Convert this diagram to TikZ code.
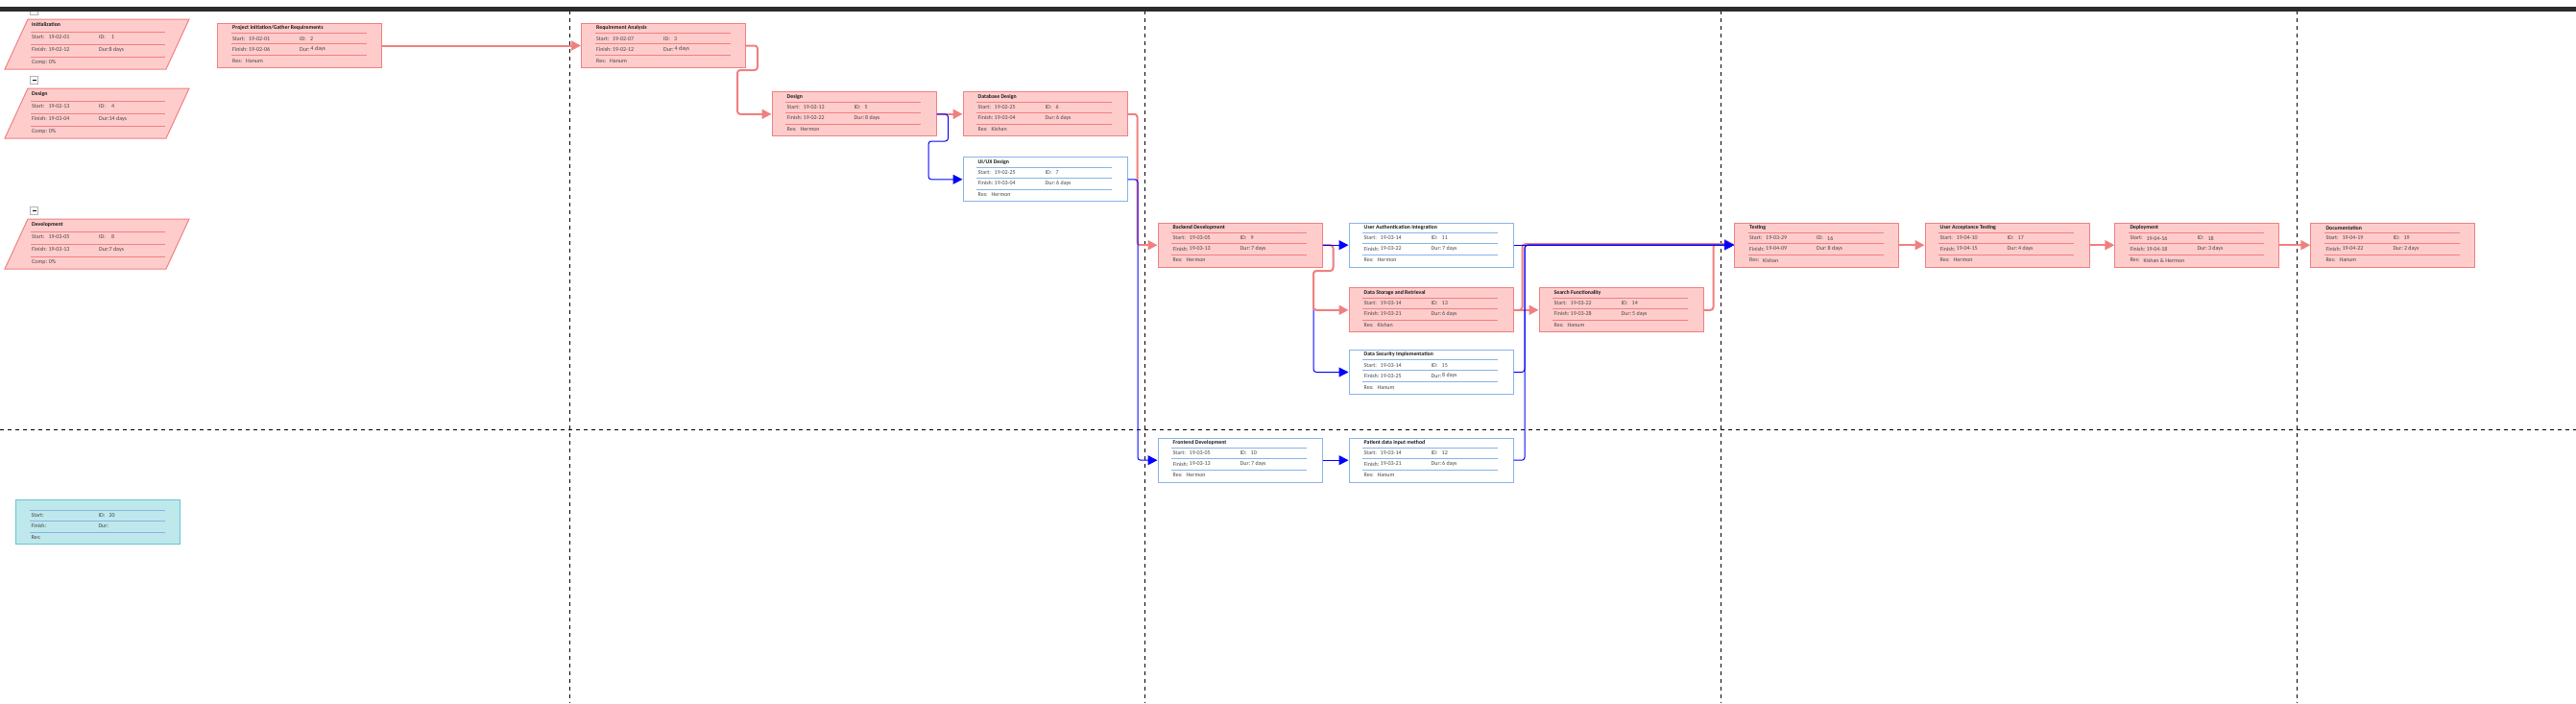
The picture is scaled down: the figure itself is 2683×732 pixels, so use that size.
\documentclass[tikz,border=0pt]{standalone}
\usepackage{fontspec}
\setmainfont{Carlito}
\usetikzlibrary{arrows.meta}

\definecolor{pinkfill}{RGB}{255,204,204}
\definecolor{pinkedge}{RGB}{240,128,128}
\definecolor{blueedge}{RGB}{135,180,232}
\definecolor{cyanfill}{RGB}{190,232,236}
\definecolor{cyanedge}{RGB}{102,198,208}
\definecolor{linkblue}{RGB}{0,0,255}
\definecolor{barcol}{RGB}{43,43,43}
\definecolor{titlecol}{RGB}{25,25,25}
\definecolor{rowcol}{RGB}{70,70,70}
\definecolor{minusedge}{RGB}{170,180,195}

\newcommand{\tasknode}[9]{%
  \node[#1box] (#2) at (#3) {};
  \foreach \ly in {10.8,21.8,33.8}
    \draw[#1sep] ([shift={(14.5,\ly)}]#2.north west) -- ++(141,0);
  \node[ttl] at ([shift={(16,5.3)}]#2.north west) {#4};
  \node[row] at ([shift={(16,16.3)}]#2.north west) {Start:};
  \node[row] at ([shift={(33,16.3)}]#2.north west) {#5};
  \node[row] at ([shift={(86,16.3)}]#2.north west) {ID:};
  \node[row] at ([shift={(97,16.3)}]#2.north west) {#6};
  \node[row] at ([shift={(16,27.3)}]#2.north west) {Finish:};
  \node[row] at ([shift={(33,27.3)}]#2.north west) {#7};
  \node[row] at ([shift={(86,27.3)}]#2.north west) {Dur:};
  \node[row] at ([shift={(97.5,27.3)}]#2.north west) {#8};
  \node[row] at ([shift={(16,39.3)}]#2.north west) {Res:};
  \node[row] at ([shift={(30,39.3)}]#2.north west) {#9};
}

\newcommand{\sumnode}[8]{%
  \coordinate (#1) at (5,#2);
  \draw[sumbox] (#1) ++(24,0) -- ++(168,0) -- ++(-24,52) -- ++(-168,0) -- cycle;
  \foreach \ly in {13.3,26.3,39.3}
    \draw[pinksep] ([shift={(27,\ly)}]#1) -- ++(140,0);
  \node[ttl] at ([shift={(28,5.7)}]#1) {#3};
  \node[row] at ([shift={(28,18.7)}]#1) {Start:};
  \node[row] at ([shift={(45.3,18.7)}]#1) {#4};
  \node[row] at ([shift={(98,18.7)}]#1) {ID:};
  \node[row] at ([shift={(111,18.7)}]#1) {#5};
  \node[row] at ([shift={(28,31.7)}]#1) {Finish:};
  \node[row] at ([shift={(45.3,31.7)}]#1) {#6};
  \node[row] at ([shift={(98,31.7)}]#1) {Dur:};
  \node[row] at ([shift={(108.5,31.7)}]#1) {#7};
  \node[row] at ([shift={(28,44.7)}]#1) {Comp: #8};
}

\begin{document}
\begin{tikzpicture}[x=1pt,y=-1pt,
    pinkbox/.style={draw=pinkedge,fill=pinkfill,line width=1pt,anchor=north west,
      minimum width=171pt,minimum height=46pt,inner sep=0pt},
    bluebox/.style={pinkbox,draw=blueedge,fill=white},
    cyanbox/.style={pinkbox,draw=cyanedge,fill=cyanfill},
    sumbox/.style={draw=pinkedge,fill=pinkfill,line width=1pt},
    pinksep/.style={draw=pinkedge,line width=0.9pt},
    bluesep/.style={draw=blueedge,line width=0.9pt},
    cyansep/.style={bluesep},
    ttl/.style={anchor=west,inner sep=0pt,text=titlecol,font=\fontsize{5.8}{7}\selectfont\bfseries},
    row/.style={anchor=west,inner sep=0pt,text=rowcol,font=\fontsize{6}{7}\selectfont},
    laneline/.style={black,line width=1pt,dash pattern=on 4pt off 4pt},
    minusbox/.style={draw=minusedge,fill=white,line width=0.8pt,minimum size=8pt,inner sep=0pt,
      path picture={\draw[black,line width=1pt] ([xshift=2pt]path picture bounding box.west)
        -- ([xshift=-2pt]path picture bounding box.east);}},
    pinkarrow/.style={draw=pinkedge,line width=2pt,rounded corners=3pt,
      -{Triangle[length=10pt,width=10pt]}},
    bluearrow/.style={draw=linkblue,line width=1pt,rounded corners=3pt,
      -{Triangle[length=10pt,width=10pt]}}]
  \useasboundingbox (0,0) rectangle (2683,732);

  \foreach \dx in {593,1192,1792,2392}
    \draw[laneline] (\dx,11) -- (\dx,732);
  \draw[laneline] (0,447) -- (2683,447);

  \node[minusbox] (minustop) at (35.5,11) {};
  \fill[barcol] (0,7) rectangle (2683,11.5);
  \node[minusbox] (minusdesign) at (35.5,83) {};
  \node[minusbox] (minusdevel) at (35.5,219) {};

  \sumnode{init}{20}{Initialization}{19-02-01}{1}{19-02-12}{8 days}{0\%}
  \sumnode{design}{92}{Design}{19-02-13}{4}{19-03-04}{14 days}{0\%}
  \sumnode{devel}{228}{Development}{19-03-05}{8}{19-03-13}{7 days}{0\%}

  \tasknode{pink}{gather}{226,24}{Project Initiation/Gather Requirements}{19-02-01}{2}{19-02-06}{4 days}{Hanum}
  \tasknode{pink}{reqa}{605,24}{Requirement Analysis}{19-02-07}{3}{19-02-12}{4 days}{Hanum}
  \tasknode{pink}{dsgn}{803.5,95.3}{Design}{19-02-13}{5}{19-02-22}{8 days}{Hermon}
  \tasknode{pink}{dbd}{1002.5,95.3}{Database Design}{19-02-25}{6}{19-03-04}{6 days}{Kishan}
  \tasknode{blue}{uiux}{1002.5,163.3}{UI/UX Design}{19-02-25}{7}{19-03-04}{6 days}{Hermon}
  \tasknode{pink}{backend}{1205.5,231.7}{Backend Development}{19-03-05}{9}{19-03-13}{7 days}{Hermon}
  \tasknode{blue}{frontend}{1205.5,455.7}{Frontend Development}{19-03-05}{10}{19-03-13}{7 days}{Hermon}
  \tasknode{blue}{auth}{1404.5,231.7}{User Authentication Integration}{19-03-14}{11}{19-03-22}{7 days}{Hermon}
  \tasknode{blue}{patient}{1404.5,455.7}{Patient data input method}{19-03-14}{12}{19-03-21}{6 days}{Hanum}
  \tasknode{pink}{store}{1404.5,299.3}{Data Storage and Retrieval}{19-03-14}{13}{19-03-21}{6 days}{Kishan}
  \tasknode{pink}{search}{1602.5,299.3}{Search Functionality}{19-03-22}{14}{19-03-28}{5 days}{Hanum}
  \tasknode{blue}{secur}{1404.5,364}{Data Security Implementation}{19-03-14}{15}{19-03-25}{8 days}{Hanum}
  \tasknode{pink}{testing}{1806,231.7}{Testing}{19-03-29}{16}{19-04-09}{8 days}{Kishan}
  \tasknode{pink}{uat}{2004.5,231.7}{User Acceptance Testing}{19-04-10}{17}{19-04-15}{4 days}{Hermon}
  \tasknode{pink}{deploy}{2202.3,231.7}{Deployment}{19-04-16}{18}{19-04-18}{3 days}{Kishan \& Hermon}
  \tasknode{pink}{docu}{2406.3,231.7}{Documentation}{19-04-19}{19}{19-04-22}{2 days}{Hanum}
  \tasknode{cyan}{newtask}{16.3,520.3}{}{}{20}{}{}{}

  \draw[pinkarrow] (gather.east) -- (reqa.west);
  \draw[pinkarrow] (reqa.east) -- ++(12,0) |- (768,73) |- (dsgn.west);
  \draw[pinkarrow] (dsgn.east) -- (dbd.west);
  \draw[pinkarrow] (dbd.east) -- ++(10,0) |- (backend.west);
  \draw[bluearrow] (dsgn.east) -- ++(12,0) |- (967,147) |- (uiux.west);
  \draw[bluearrow] (uiux.east) -- ++(10.5,0) |- (frontend.west);
  \draw[bluearrow] (backend.east) -- ++(11,0) |- (1368,282) |- (secur.west);
  \draw[pinkarrow] (backend.east) -- ++(11,0) |- (1368,282) |- (store.west);
  \draw[bluearrow] (backend.east) -- (auth.west);
  \draw[bluearrow] (frontend.east) -- (patient.west);
  \draw[pinkarrow] (store.east) -- (search.west);
  \draw[pinkarrow] (store.east) -- ++(9,0) |- ([yshift=1pt]testing.west);
  \draw[pinkarrow] (search.east) -- ++(10,0) |- ([yshift=1pt]testing.west);
  \draw[bluearrow] (secur.east) -- ++(11.5,0) |- (testing.west);
  \draw[bluearrow] (patient.east) -- ++(11.5,0) |- (testing.west);
  \draw[bluearrow] (auth.east) -- (testing.west);
  \draw[pinkarrow] (testing.east) -- (uat.west);
  \draw[pinkarrow] (uat.east) -- (deploy.west);
  \draw[pinkarrow] (deploy.east) -- (docu.west);
\end{tikzpicture}
\end{document}
